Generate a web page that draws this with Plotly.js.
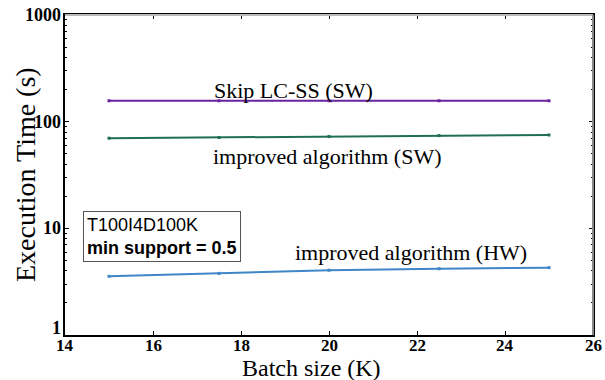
<!DOCTYPE html>
<html>
<head>
<meta charset="utf-8">
<script src="https://cdn.plot.ly/plotly-3.0.1.min.js"></script>
<style>html,body{margin:0;padding:0;background:#fff;}#chart{width:605px;height:380px;}</style>
</head>
<body>
<div id="chart"></div>
<script>
var batchSize = [15, 17.5, 20, 22.5, 25];
var skipLCSS_SW = [157, 157, 157, 157, 157];
var improved_SW = [70, 71, 72.5, 74, 75];
var improved_HW = [3.55, 3.78, 4.05, 4.18, 4.28];
var xTicks = [14, 16, 18, 20, 22, 24, 26];
var yTicks = [1, 10, 100, 1000];
var yTickText = ['1', '10', '100', '1000'];
var minorY = [2,3,4,5,6,7,8,9,20,30,40,50,60,70,80,90,200,300,400,500,600,700,800,900];

function series(y, color) {
  return {x: batchSize, y: y, type: 'scatter', mode: 'lines+markers',
    line: {color: color, width: 2}, marker: {symbol: 'square', size: 3, color: color},
    showlegend: false, hoverinfo: 'skip'};
}

var data = [
  series(skipLCSS_SW, '#6a22a0'),
  series(improved_SW, '#1f6e55'),
  series(improved_HW, '#3f86c8')
];

var serif = 'Liberation Serif';
var annotations = [
  {x: 0.466, y: 0, xref: 'paper', yref: 'paper', yshift: -33, text: 'Batch size (K)', showarrow: false,
    font: {family: serif, size: 24, color: '#000'}, xanchor: 'center', yanchor: 'middle'},
  {x: 0, y: 0.5, xref: 'paper', yref: 'paper', xshift: -40, text: 'Execution Time (s)', showarrow: false, textangle: -90,
    font: {family: serif, size: 28, color: '#000'}, xanchor: 'center', yanchor: 'middle'},
  {x: 19.2, y: Math.log10(194), xref: 'x', yref: 'y', text: 'Skip LC-SS (SW)', showarrow: false,
    font: {family: serif, size: 22, color: '#000'}, xanchor: 'center', yanchor: 'middle'},
  {x: 19.97, y: Math.log10(46.7), xref: 'x', yref: 'y', text: 'improved algorithm (SW)', showarrow: false,
    font: {family: serif, size: 22, color: '#000'}, xanchor: 'center', yanchor: 'middle'},
  {x: 21.86, y: Math.log10(5.9), xref: 'x', yref: 'y', text: 'improved algorithm (HW)', showarrow: false,
    font: {family: serif, size: 22, color: '#000'}, xanchor: 'center', yanchor: 'middle'},
  {x: 0.034, y: 0.308, xref: 'paper', yref: 'paper', xanchor: 'left', yanchor: 'middle', align: 'left',
    text: 'T100I4D100K<br><b>min support = 0.5</b>', showarrow: false,
    font: {family: 'Liberation Sans', size: 18, color: '#000'},
    bordercolor: '#555', borderwidth: 1, borderpad: 3, bgcolor: '#fff'}
];
xTicks.forEach(function (v) {
  annotations.push({x: v, y: 0, xref: 'x', yref: 'paper', yshift: -10, text: '<b>' + v + '</b>', showarrow: false,
    font: {family: serif, size: 17, color: '#000'}, xanchor: 'center', yanchor: 'middle'});
});
yTicks.forEach(function (v, i) {
  annotations.push({x: 0, y: Math.log10(v), xref: 'paper', yref: 'y', xshift: -2, yshift: (i === 0 ? 7 : 0),
    text: '<b>' + yTickText[i] + '</b>', showarrow: false,
    font: {family: serif, size: 18, color: '#000'}, xanchor: 'right', yanchor: 'middle'});
});

var layout = {
  width: 605, height: 380,
  margin: {l: 65, r: 12, t: 15, b: 45},
  paper_bgcolor: '#fff', plot_bgcolor: '#fff',
  xaxis: {range: [14, 26], tickmode: 'array', tickvals: xTicks, showticklabels: false,
    ticks: 'inside', ticklen: 4, tickcolor: '#000', showline: true, linecolor: '#000', linewidth: 2,
    mirror: 'ticks', showgrid: false, zeroline: false},
  yaxis: {type: 'log', range: [0, 3], tickmode: 'array', tickvals: yTicks, showticklabels: false,
    ticks: 'inside', ticklen: 4, tickcolor: '#000', showline: true, linecolor: '#000', linewidth: 2,
    mirror: 'ticks', showgrid: false, zeroline: false,
    minor: {tickmode: 'array', tickvals: minorY, ticks: 'inside', ticklen: 2, tickcolor: '#000', showgrid: false}},
  shapes: [
    {type: 'line', xref: 'paper', yref: 'paper', x0: 0, x1: 1, y0: 1, y1: 1, line: {color: '#bbbbbb', width: 2}, layer: 'above'},
    {type: 'line', xref: 'paper', yref: 'paper', x0: 1, x1: 1, y0: 0, y1: 1, line: {color: '#888888', width: 2}, layer: 'above'}
  ],
  annotations: annotations
};

Plotly.newPlot('chart', data, layout, {staticPlot: true, displayModeBar: false});
</script>
</body>
</html>
